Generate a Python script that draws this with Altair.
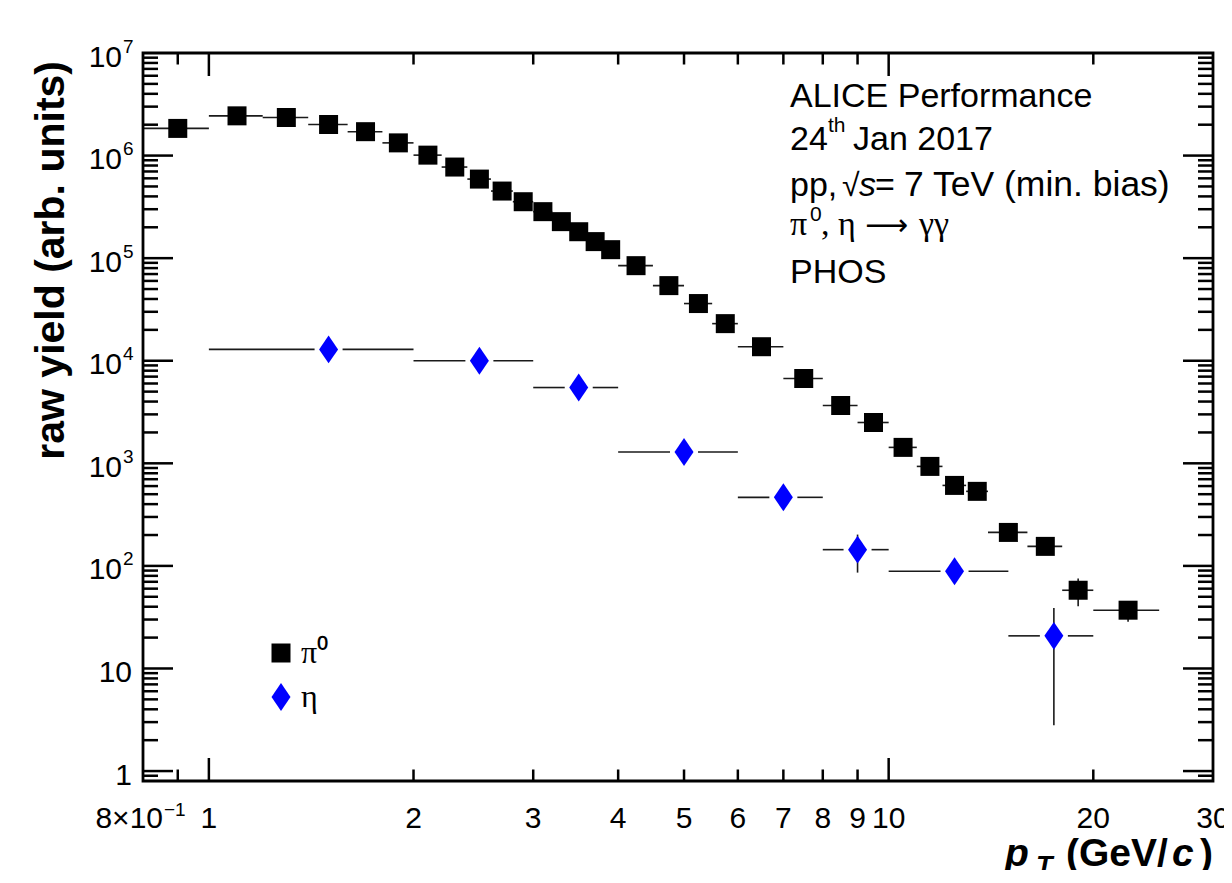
import altair as alt
import pandas as pd

# ---------------- data ----------------
pi0_pt = [0.9, 1.1, 1.3, 1.5, 1.7, 1.9, 2.1, 2.3, 2.5, 2.7, 2.9, 3.1, 3.3, 3.5, 3.7, 3.9,
          4.25, 4.75, 5.25, 5.75, 6.5, 7.5, 8.5, 9.5, 10.5, 11.5, 12.5, 13.5, 15, 17, 19, 22.5]
pi0_lo = [0.8, 1.0, 1.2, 1.4, 1.6, 1.8, 2.0, 2.2, 2.4, 2.6, 2.8, 3.0, 3.2, 3.4, 3.6, 3.8,
          4.0, 4.5, 5.0, 5.5, 6, 7, 8, 9, 10, 11, 12, 13, 14, 16, 18, 20]
pi0_hi = [1.0, 1.2, 1.4, 1.6, 1.8, 2.0, 2.2, 2.4, 2.6, 2.8, 3.0, 3.2, 3.4, 3.6, 3.8, 4.0,
          4.5, 5.0, 5.5, 6.0, 7, 8, 9, 10, 11, 12, 13, 14, 16, 18, 20, 25]
pi0_yield = [1.84e6, 2.44e6, 2.35e6, 2.01e6, 1.71e6, 1.33e6, 1.01e6, 7.73e5, 5.90e5, 4.51e5,
             3.55e5, 2.84e5, 2.27e5, 1.81e5, 1.45e5, 1.21e5, 8.45e4, 5.40e4, 3.61e4, 2.30e4,
             1.37e4, 6.71e3, 3.66e3, 2.50e3, 1.43e3, 933, 609, 533, 212, 155, 57.9, 37.0]
pi0_err = [1.5e4, 1.2e4, 9e3, 7e3, 5e3, 4e3, 3e3, 2.5e3, 2e3, 1.6e3,
           1.3e3, 1.1e3, 1e3, 900, 800, 700, 600, 450, 350, 300,
           220, 150, 110, 90, 70, 55, 45, 40, 20, 18, 17.5, 8.5]

eta_pt = [1.5, 2.5, 3.5, 5, 7, 9, 12.5, 17.5]
eta_lo = [1, 2, 3, 4, 6, 8, 10, 15]
eta_hi = [2, 3, 4, 6, 8, 10, 15, 20]
eta_yield = [1.29e4, 1.00e4, 5.48e3, 1.29e3, 466, 144, 88.6, 20.8]
eta_err = [500, 400, 250, 70, 30, 58, 14, 18]

series_names = ["π⁰", "η"]
series_colors = ["#000000", "#0000ff"]

x_major_ticks = [1, 10]
x_minor_ticks = [0.9, 2, 3, 4, 5, 6, 7, 8, 9, 20]
x_tick_labels = ["1", "2", "3", "4", "5", "6", "7", "8", "9", "10", "20", "30"]
x_tick_values = [1, 2, 3, 4, 5, 6, 7, 8, 9, 10, 20, 30]
y_major_ticks = [1, 10, 1e2, 1e3, 1e4, 1e5, 1e6]
y_minor_ticks = [0.9] + [k * 10 ** d for d in range(0, 7) for k in range(2, 10)]
y_plain_values = [1, 10]
y_plain_labels = ["1", "10"]
y_exp_values = [1e2, 1e3, 1e4, 1e5, 1e6, 1e7]
y_exp_labels = ["2", "3", "4", "5", "6", "7"]

# ---------------- layout ----------------
W, H = 1070, 728
FONT = "Liberation Sans"
DIAMOND = "M0,-1.47L1,0L0,1.47L-1,0Z"

xs = alt.Scale(type="log", domain=[0.8, 30])
ys = alt.Scale(type="log", domain=[0.8, 1e7])

pi0_df = pd.DataFrame({
    "pt": pi0_pt, "lo": pi0_lo, "hi": pi0_hi, "val": pi0_yield,
    "ylo": [v - e for v, e in zip(pi0_yield, pi0_err)],
    "yhi": [v + e for v, e in zip(pi0_yield, pi0_err)],
    "series": series_names[0],
})
eta_df = pd.DataFrame({
    "pt": eta_pt, "lo": eta_lo, "hi": eta_hi, "val": eta_yield,
    "ylo": [v - e for v, e in zip(eta_yield, eta_err)],
    "yhi": [v + e for v, e in zip(eta_yield, eta_err)],
    "series": series_names[1],
})
pts_df = pd.concat([pi0_df, eta_df], ignore_index=True)

X = lambda f: alt.X(f, type="quantitative", scale=xs, axis=None)
Y = lambda f: alt.Y(f, type="quantitative", scale=ys, axis=None)

EB = dict(color="#1a1a1a", strokeWidth=1.6)

pi0_h = alt.Chart(pi0_df).mark_rule(**EB).encode(x=X("lo"), x2="hi", y=Y("val"))
pi0_v = alt.Chart(pi0_df).mark_rule(**EB).encode(x=X("pt"), y=Y("ylo"), y2="yhi")
eta_hl = alt.Chart(eta_df).mark_rule(x2Offset=-14, **EB).encode(x=X("lo"), x2="pt", y=Y("val"))
eta_hr = alt.Chart(eta_df).mark_rule(xOffset=14, **EB).encode(x=X("pt"), x2="hi", y=Y("val"))
eta_v = alt.Chart(eta_df).mark_rule(**EB).encode(x=X("pt"), y=Y("ylo"), y2="yhi")

leg = alt.Legend(title=None, orient="none", legendX=122, legendY=584,
                 labelFont="Liberation Serif", labelFontSize=32, labelColor="black",
                 symbolSize=361, symbolStrokeWidth=0, rowPadding=12, labelOffset=4,
                 padding=0)
points = alt.Chart(pts_df).mark_point(filled=True, size=361, opacity=1, strokeWidth=0).encode(
    x=X("pt"), y=Y("val"),
    color=alt.Color("series:N", scale=alt.Scale(domain=series_names, range=series_colors), legend=leg),
    shape=alt.Shape("series:N", scale=alt.Scale(domain=series_names, range=["square", DIAMOND]), legend=leg),
)

# frame
frame = alt.Chart(pd.DataFrame({"k": [0]})).mark_rect(
    fill=None, stroke="black", strokeWidth=2.8).encode(
    x=alt.value(0), x2=alt.value(W), y=alt.value(0), y2=alt.value(H))

TK = dict(color="black", strokeWidth=2.5)
xmaj = pd.DataFrame({"v": x_major_ticks})
xmin = pd.DataFrame({"v": x_minor_ticks})
ymaj = pd.DataFrame({"v": y_major_ticks})
ymin = pd.DataFrame({"v": y_minor_ticks})

ticks = [
    alt.Chart(xmaj).mark_rule(**TK).encode(x=X("v"), y=alt.value(H), y2=alt.value(H - 23)),
    alt.Chart(xmaj).mark_rule(**TK).encode(x=X("v"), y=alt.value(0), y2=alt.value(23)),
    alt.Chart(xmin).mark_rule(**TK).encode(x=X("v"), y=alt.value(H), y2=alt.value(H - 11.5)),
    alt.Chart(xmin).mark_rule(**TK).encode(x=X("v"), y=alt.value(0), y2=alt.value(11.5)),
    alt.Chart(ymaj).mark_rule(**TK).encode(y=Y("v"), x=alt.value(0), x2=alt.value(30)),
    alt.Chart(ymaj).mark_rule(**TK).encode(y=Y("v"), x=alt.value(W), x2=alt.value(W - 30)),
    alt.Chart(ymin).mark_rule(**TK).encode(y=Y("v"), x=alt.value(0), x2=alt.value(15)),
    alt.Chart(ymin).mark_rule(**TK).encode(y=Y("v"), x=alt.value(W), x2=alt.value(W - 15)),
]

LBL = dict(font=FONT, fontSize=30, color="black")
xl_df = pd.DataFrame({"v": x_tick_values, "t": x_tick_labels})
x_labels = alt.Chart(xl_df).mark_text(align="center", baseline="middle", **LBL).encode(
    x=X("v"), y=alt.value(766), text="t:N")
x08 = pd.DataFrame({"v": [0.8], "t": ["8×10"], "e": ["−1"]})
x08_base = alt.Chart(x08).mark_text(align="right", baseline="middle", dx=20, **LBL).encode(
    x=X("v"), y=alt.value(766), text="t:N")
x08_exp = alt.Chart(x08).mark_text(align="left", baseline="middle", dx=21, dy=-9,
                                   font=FONT, fontSize=19, color="black").encode(
    x=X("v"), y=alt.value(766), text="e:N")

yp_df = pd.DataFrame({"v": y_plain_values, "t": y_plain_labels})
ye_df = pd.DataFrame({"v": y_exp_values, "e": y_exp_labels, "t": "10"})
y_plain = alt.Chart(yp_df).mark_text(align="right", baseline="middle", dy=5, **LBL).encode(
    y=Y("v"), x=alt.value(-11), text="t:N")
y_base = alt.Chart(ye_df).mark_text(align="right", baseline="middle", dy=4.5, **LBL).encode(
    y=Y("v"), x=alt.value(-21), text="t:N")
y_exp = alt.Chart(ye_df).mark_text(align="left", baseline="middle", dy=-6.5,
                                   font=FONT, fontSize=19, color="black").encode(
    y=Y("v"), x=alt.value(-20), text="e:N")


def txt(s, x, y, **kw):
    style = dict(font=FONT, fontSize=34, color="black", align="left", baseline="alphabetic")
    style.update(kw)
    return alt.Chart(pd.DataFrame({"t": [s]})).mark_text(**style).encode(
        text="t:N", x=alt.value(x), y=alt.value(y))


notes = [
    txt("ALICE Performance", 647, 54),
    txt("24", 647, 97),
    txt("th", 685, 79, fontSize=21),
    txt("Jan 2017", 710, 97),
    txt("pp,", 647, 143),
    txt("√", 699, 143, fontSize=32),
    txt("s", 716, 143, fontStyle="italic"),
    txt("=", 732, 143),
    txt("7 TeV (min. bias)", 761, 143, fontSize=35.5),
    txt("π", 647, 182, font="Liberation Serif"),
    txt("0", 667, 168, fontSize=21),
    txt(", η", 678, 182, font="Liberation Serif"),
    txt("⟶", 722, 182, font="DejaVu Sans", fontSize=30),
    txt("γγ", 776, 182, font="Liberation Serif"),
    txt("PHOS", 647, 230),
    # axis titles
    txt("raw yield (arb. units)", -91, 8, fontSize=41, fontWeight="bold", angle=270,
        align="right", baseline="middle"),
    txt("p", 862, 813, fontSize=39, fontWeight="bold", fontStyle="italic"),
    txt("T", 893, 822, fontSize=27, fontWeight="bold", fontStyle="italic"),
    txt("(GeV/", 923, 813, fontSize=39, fontWeight="bold"),
    txt("c", 1029, 813, fontSize=39, fontWeight="bold", fontStyle="italic"),
    txt(")", 1057, 813, fontSize=39, fontWeight="bold"),
]

chart = alt.layer(
    pi0_h, pi0_v, eta_hl, eta_hr, eta_v, points,
    *ticks, frame, x_labels, x08_base, x08_exp, y_plain, y_base, y_exp, *notes,
).properties(
    width=W, height=H,
    autosize=alt.AutoSizeParams(type="none"),
    padding={"left": 135, "top": 45, "right": 11, "bottom": 89},
).configure(
    background="white",
    view=alt.ViewConfig(stroke=None),
)

chart.save("out.html", embed_options={"renderer": "svg", "actions": False})
